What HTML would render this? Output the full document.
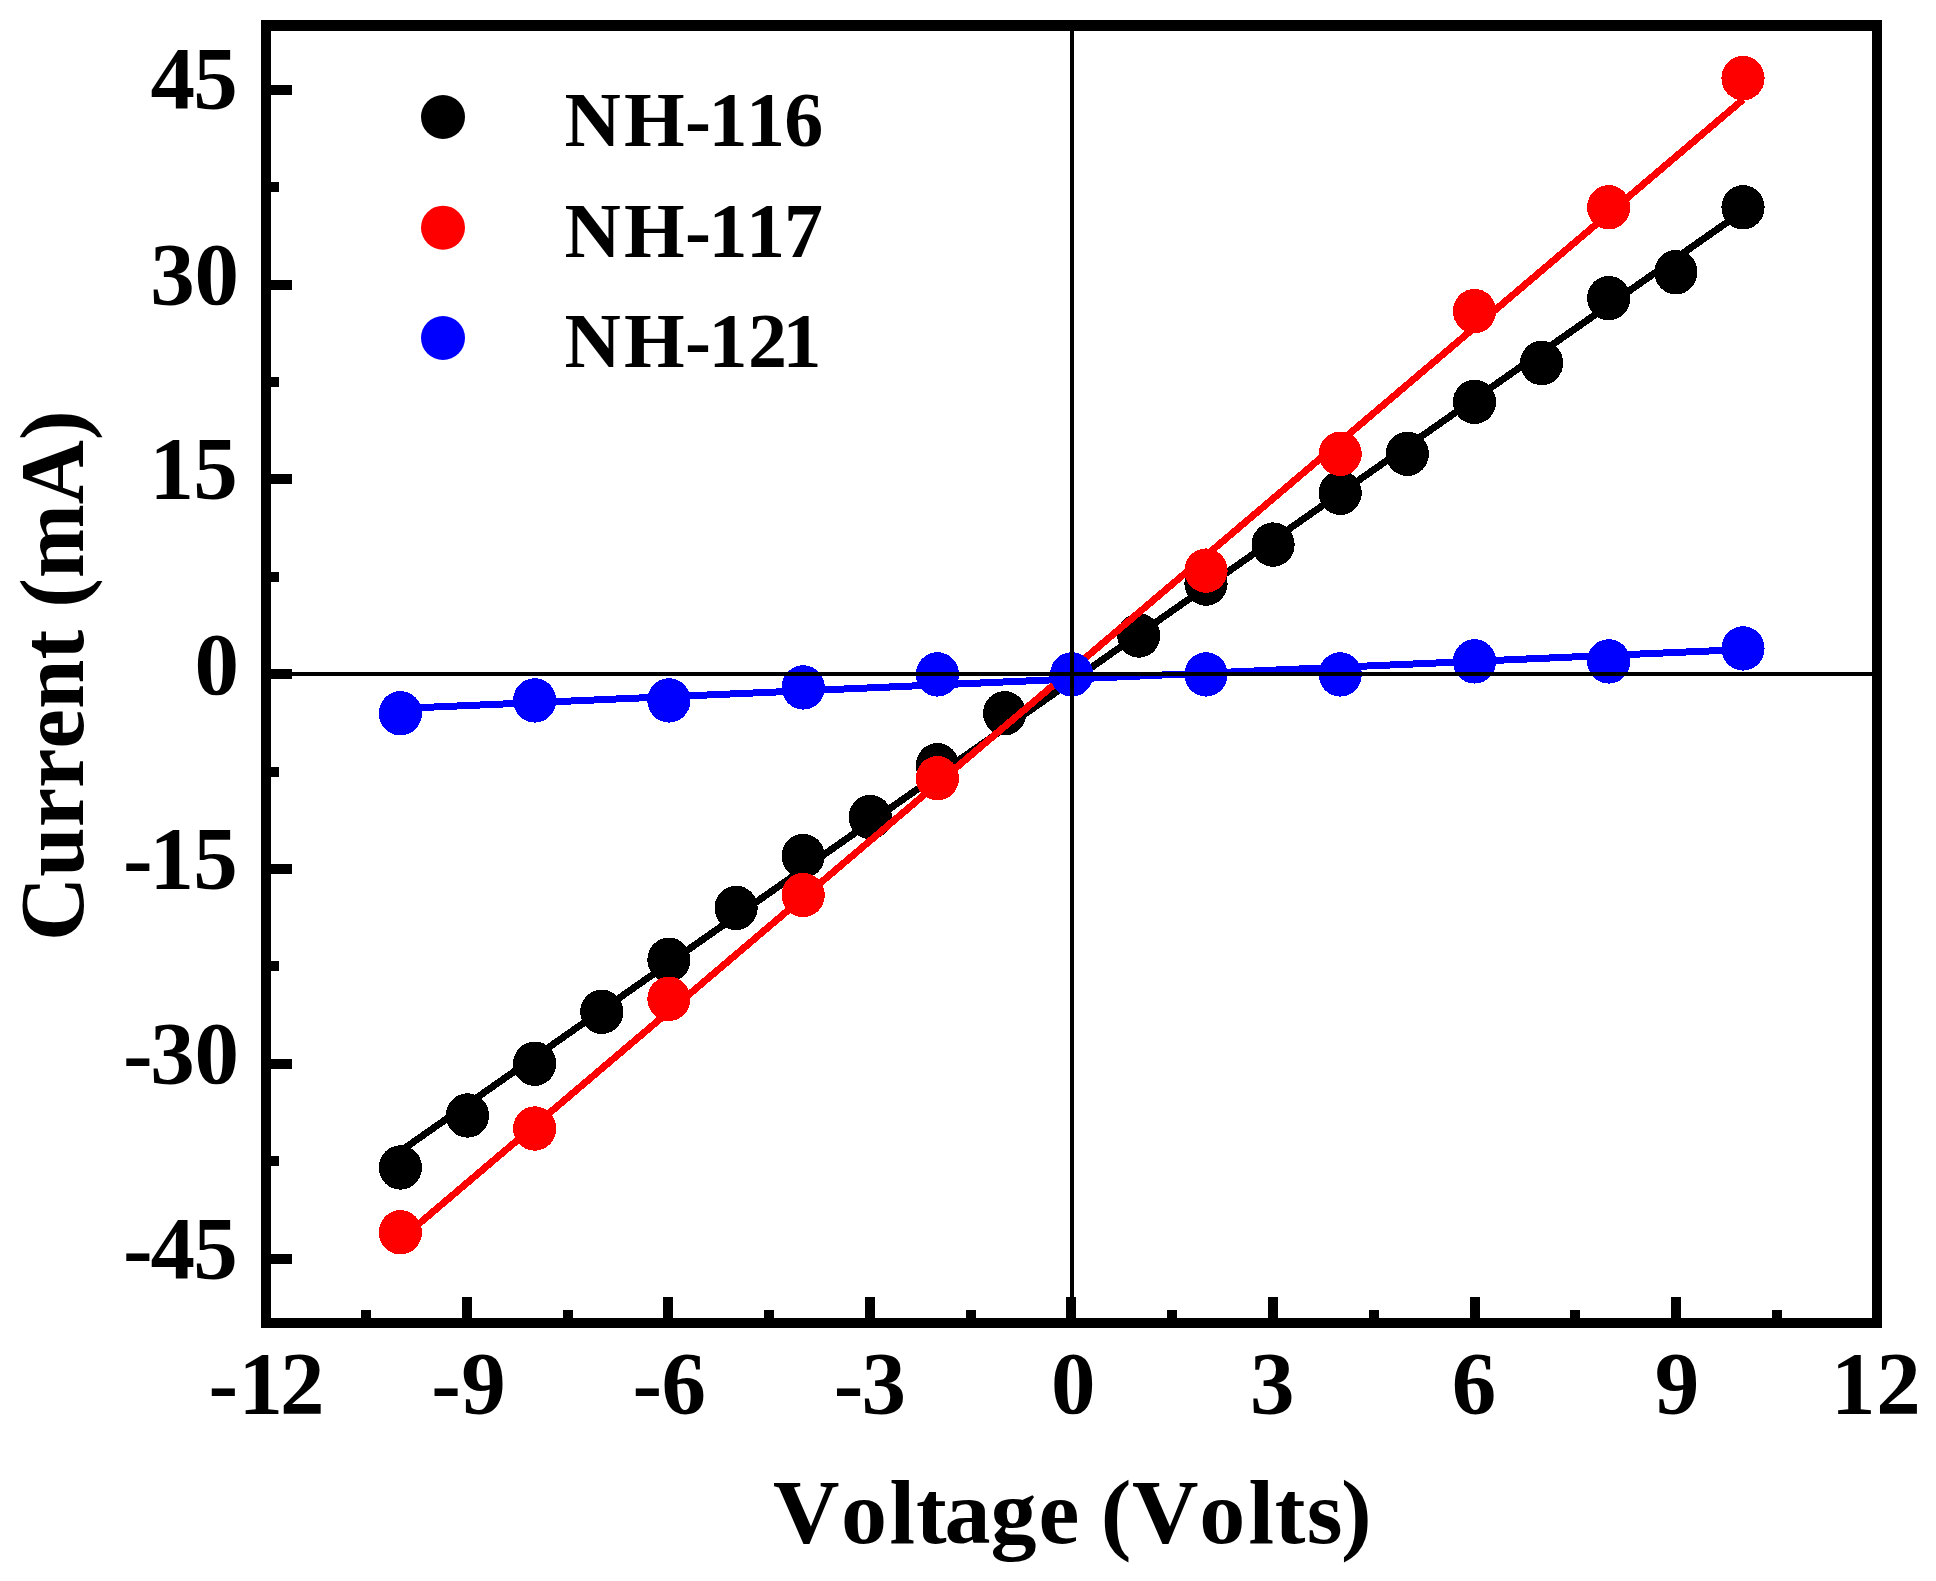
<!DOCTYPE html>
<html lang="en"><head><meta charset="utf-8"><title>Current vs Voltage</title>
<style>
html,body{margin:0;padding:0;background:#fff}
body{width:1936px;height:1581px;overflow:hidden}
svg{display:block}
text{font-family:"Liberation Serif",serif;font-weight:bold;fill:#000;font-kerning:none}
.tk text{font-size:89px}
.ti{font-size:92px}
.lg{font-size:78px}
</style></head><body>
<svg width="1936" height="1581" viewBox="0 0 1936 1581">
<rect x="0" y="0" width="1936" height="1581" fill="#fff"/>
<g shape-rendering="crispEdges">
<line x1="400.4" y1="1151.2" x2="1743.0" y2="211.2" stroke="#000" stroke-width="7"/>
<g fill="#000"><ellipse cx="400.4" cy="1167.5" rx="21.6" ry="22.2"/><ellipse cx="467.5" cy="1115.5" rx="21.6" ry="22.2"/><ellipse cx="534.7" cy="1063.7" rx="21.6" ry="22.2"/><ellipse cx="601.8" cy="1011.8" rx="21.6" ry="22.2"/><ellipse cx="668.9" cy="959.8" rx="21.6" ry="22.2"/><ellipse cx="736.1" cy="907.9" rx="21.6" ry="22.2"/><ellipse cx="803.2" cy="856.0" rx="21.6" ry="22.2"/><ellipse cx="870.3" cy="817.1" rx="21.6" ry="22.2"/><ellipse cx="937.4" cy="765.2" rx="21.6" ry="22.2"/><ellipse cx="1004.6" cy="713.3" rx="21.6" ry="22.2"/><ellipse cx="1071.7" cy="674.4" rx="21.6" ry="22.2"/><ellipse cx="1138.8" cy="635.5" rx="21.6" ry="22.2"/><ellipse cx="1206.0" cy="583.6" rx="21.6" ry="22.2"/><ellipse cx="1273.1" cy="544.6" rx="21.6" ry="22.2"/><ellipse cx="1340.2" cy="492.8" rx="21.6" ry="22.2"/><ellipse cx="1407.3" cy="453.8" rx="21.6" ry="22.2"/><ellipse cx="1474.5" cy="401.9" rx="21.6" ry="22.2"/><ellipse cx="1541.6" cy="363.0" rx="21.6" ry="22.2"/><ellipse cx="1608.7" cy="298.1" rx="21.6" ry="22.2"/><ellipse cx="1675.9" cy="272.2" rx="21.6" ry="22.2"/><ellipse cx="1743.0" cy="207.3" rx="21.6" ry="22.2"/></g>
<line x1="400.4" y1="1239.5" x2="1743.0" y2="99.6" stroke="#f00" stroke-width="7"/>
<g fill="#f00"><ellipse cx="400.4" cy="1232.3" rx="21.6" ry="22.2"/><ellipse cx="534.7" cy="1128.5" rx="21.6" ry="22.2"/><ellipse cx="668.9" cy="998.8" rx="21.6" ry="22.2"/><ellipse cx="803.2" cy="895.0" rx="21.6" ry="22.2"/><ellipse cx="937.4" cy="778.2" rx="21.6" ry="22.2"/><ellipse cx="1071.7" cy="674.4" rx="21.6" ry="22.2"/><ellipse cx="1206.0" cy="570.6" rx="21.6" ry="22.2"/><ellipse cx="1340.2" cy="453.8" rx="21.6" ry="22.2"/><ellipse cx="1474.5" cy="311.1" rx="21.6" ry="22.2"/><ellipse cx="1608.7" cy="207.3" rx="21.6" ry="22.2"/><ellipse cx="1743.0" cy="78.2" rx="21.6" ry="22.2"/></g>
<line x1="400.4" y1="708.5" x2="1743.0" y2="649.5" stroke="#00f" stroke-width="7"/>
<g fill="#00f"><ellipse cx="400.4" cy="713.3" rx="21.6" ry="22.2"/><ellipse cx="534.7" cy="700.4" rx="21.6" ry="22.2"/><ellipse cx="668.9" cy="700.4" rx="21.6" ry="22.2"/><ellipse cx="803.2" cy="687.4" rx="21.6" ry="22.2"/><ellipse cx="937.4" cy="674.4" rx="21.6" ry="22.2"/><ellipse cx="1071.7" cy="674.4" rx="21.6" ry="22.2"/><ellipse cx="1206.0" cy="674.4" rx="21.6" ry="22.2"/><ellipse cx="1340.2" cy="674.4" rx="21.6" ry="22.2"/><ellipse cx="1474.5" cy="661.4" rx="21.6" ry="22.2"/><ellipse cx="1608.7" cy="661.4" rx="21.6" ry="22.2"/><ellipse cx="1743.0" cy="648.4" rx="21.6" ry="22.2"/></g>
</g>
<rect x="266" y="672" width="1611" height="4" fill="#000"/>
<rect x="1070" y="25" width="4" height="1298" fill="#000"/>
<path d="M266,1254h26v10h-26zM266,1059h26v10h-26zM266,864h26v10h-26zM266,669h26v10h-26zM266,474h26v10h-26zM266,280h26v10h-26zM266,85h26v10h-26zM266,1156h13v10h-13zM266,961h13v10h-13zM266,767h13v10h-13zM266,572h13v10h-13zM266,377h13v10h-13zM266,182h13v10h-13zM462,1323v-26h10v26zM663,1323v-26h10v26zM865,1323v-26h10v26zM1066,1323v-26h10v26zM1268,1323v-26h10v26zM1470,1323v-26h10v26zM1671,1323v-26h10v26zM361,1323v-13h10v13zM563,1323v-13h10v13zM764,1323v-13h10v13zM966,1323v-13h10v13zM1167,1323v-13h10v13zM1369,1323v-13h10v13zM1570,1323v-13h10v13zM1772,1323v-13h10v13z" fill="#000"/>
<path d="M261,20H1882V1328H261zM271,31V1318H1872V31z" fill="#000" fill-rule="evenodd"/>
<g class="tk">
<text x="150.6 193.2" y="108.3">45</text>
<text x="150.3 194.6" y="303.5">30</text>
<text x="149.4 193.2" y="498.3">15</text>
<text x="194.6" y="693.5">0</text>
<text x="122.9 149.4 193.2" y="888.2">-15</text>
<text x="122.9 150.3 194.6" y="1083">-30</text>
<text x="122.9 150.6 193.2" y="1277.7">-45</text>
<text x="208.4 238.4 279.9" y="1412.5">-12</text>
<text x="431.3 461.3" y="1412.5">-9</text>
<text x="632.4 661.4" y="1412.5">-6</text>
<text x="833.8 861.6" y="1412.5">-3</text>
<text x="1051.0" y="1412.5">0</text>
<text x="1250.1" y="1412.5">3</text>
<text x="1451.7" y="1412.5">6</text>
<text x="1654.8" y="1412.5">9</text>
<text x="1831.0 1876.3" y="1412.5">12</text>
</g>
<text class="ti" x="773.0 841.1 889.5 916.0 944.5 990.5 1038.4 1069.6 1100.7 1132.1 1199.2 1248.5 1274.8 1306.8 1341.1" y="1543">Voltage (Volts)</text>
<text class="ti" transform="translate(83,940.9) rotate(-90) scale(0.9658,1)" x="0" y="0">Current (mA)</text>
<circle cx="443" cy="117.0" r="22" fill="#000"/>
<text class="lg" x="564.5 624.1 685.0 708.5 745.9 784.2" y="146">NH-116</text>
<circle cx="443" cy="227.7" r="22" fill="#f00"/>
<text class="lg" x="564.5 624.1 685.0 708.5 745.9 784.0" y="256.5">NH-117</text>
<circle cx="443" cy="338.0" r="22" fill="#00f"/>
<text class="lg" x="564.5 624.1 685.0 708.5 747.9 782.5" y="367">NH-121</text>
</svg>
</body></html>
